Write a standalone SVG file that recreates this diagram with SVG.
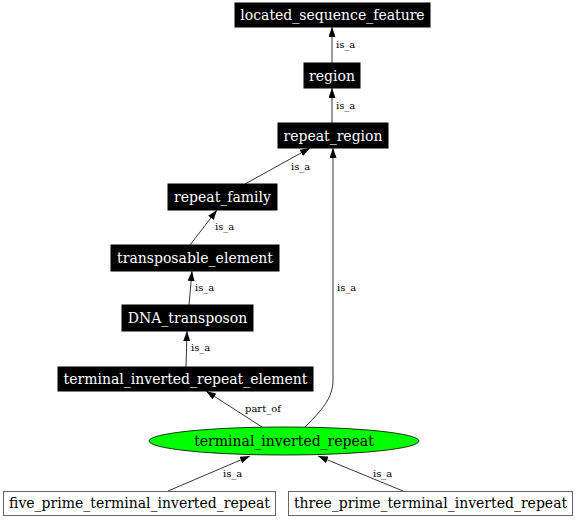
<svg xmlns="http://www.w3.org/2000/svg" width="576" height="520" viewBox="0 0 576 520">
<defs>
<marker id="ah" markerWidth="10" markerHeight="7" refX="10" refY="3.5" orient="auto" markerUnits="userSpaceOnUse">
<path d="M0,0 L10,3.5 L0,7 z" fill="#000"/>
</marker>
<style>
.blk rect{fill:#000;stroke:#000;}
.blk text{fill:#fff;font-family:"DejaVu Serif","Liberation Serif",serif;font-size:14px;text-anchor:middle;}
.wht rect{fill:#fff;stroke:#666;stroke-width:1;}
.wht text{fill:#000;font-family:"DejaVu Serif","Liberation Serif",serif;font-size:14px;text-anchor:middle;}
#edges path{fill:none;stroke:#000;stroke-width:0.8;marker-end:url(#ah);}
#edges text{font-family:"DejaVu Serif","Liberation Serif",serif;font-size:10px;fill:#000;}
</style>
</defs>
<rect width="576" height="520" fill="#fff"/>
<g id="edges">
<path d="M332,63 L332,27"/>
<text x="336" y="48">is_a</text>
<path d="M332,123 L332,88"/>
<text x="336" y="109">is_a</text>
<path d="M245,184 L310,148"/>
<text x="291" y="170">is_a</text>
<path d="M190,245 L217,210"/>
<text x="215" y="230">is_a</text>
<path d="M189,305 L192,271"/>
<text x="195" y="291">is_a</text>
<path d="M186,367 L187,331"/>
<text x="191" y="351">is_a</text>
<path d="M262,427 L206,391"/>
<text x="245" y="412">part_of</text>
<path d="M305,427 C322,410 333,398 333,380 L333,148"/>
<text x="337" y="291">is_a</text>
<path d="M168,491 L250,456"/>
<text x="223" y="477">is_a</text>
<path d="M403,491 L318,456"/>
<text x="373" y="477">is_a</text>
</g>
<g id="located_sequence_feature" class="blk"><rect x="235" y="3" width="195" height="24"/><text x="332.5" y="20">located_sequence_feature</text></g>
<g id="region" class="blk"><rect x="304" y="63" width="56" height="25"/><text x="332" y="80.5">region</text></g>
<g id="repeat_region" class="blk"><rect x="278" y="123" width="110" height="25"/><text x="333" y="140.5">repeat_region</text></g>
<g id="repeat_family" class="blk"><rect x="168" y="184" width="109" height="26"/><text x="222.5" y="202">repeat_family</text></g>
<g id="transposable_element" class="blk"><rect x="111" y="245" width="168" height="26"/><text x="195" y="263">transposable_element</text></g>
<g id="DNA_transposon" class="blk"><rect x="122" y="305" width="131" height="26"/><text x="187.5" y="323">DNA_transposon</text></g>
<g id="terminal_inverted_repeat_element" class="blk"><rect x="58" y="367" width="255" height="24"/><text x="185.5" y="384">terminal_inverted_repeat_element</text></g>
<g id="terminal_inverted_repeat"><ellipse cx="284" cy="441" rx="135" ry="14" fill="#00ff00" stroke="#000" stroke-width="0.8"/><text x="284" y="446" font-family="DejaVu Serif, Liberation Serif, serif" font-size="14" text-anchor="middle" fill="#000">terminal_inverted_repeat</text></g>
<g id="five_prime_terminal_inverted_repeat" class="wht"><rect x="3.5" y="491.5" width="272" height="24"/><text x="139.5" y="508">five_prime_terminal_inverted_repeat</text></g>
<g id="three_prime_terminal_inverted_repeat" class="wht"><rect x="288.5" y="491.5" width="284" height="24"/><text x="430.5" y="508">three_prime_terminal_inverted_repeat</text></g>
</svg>
